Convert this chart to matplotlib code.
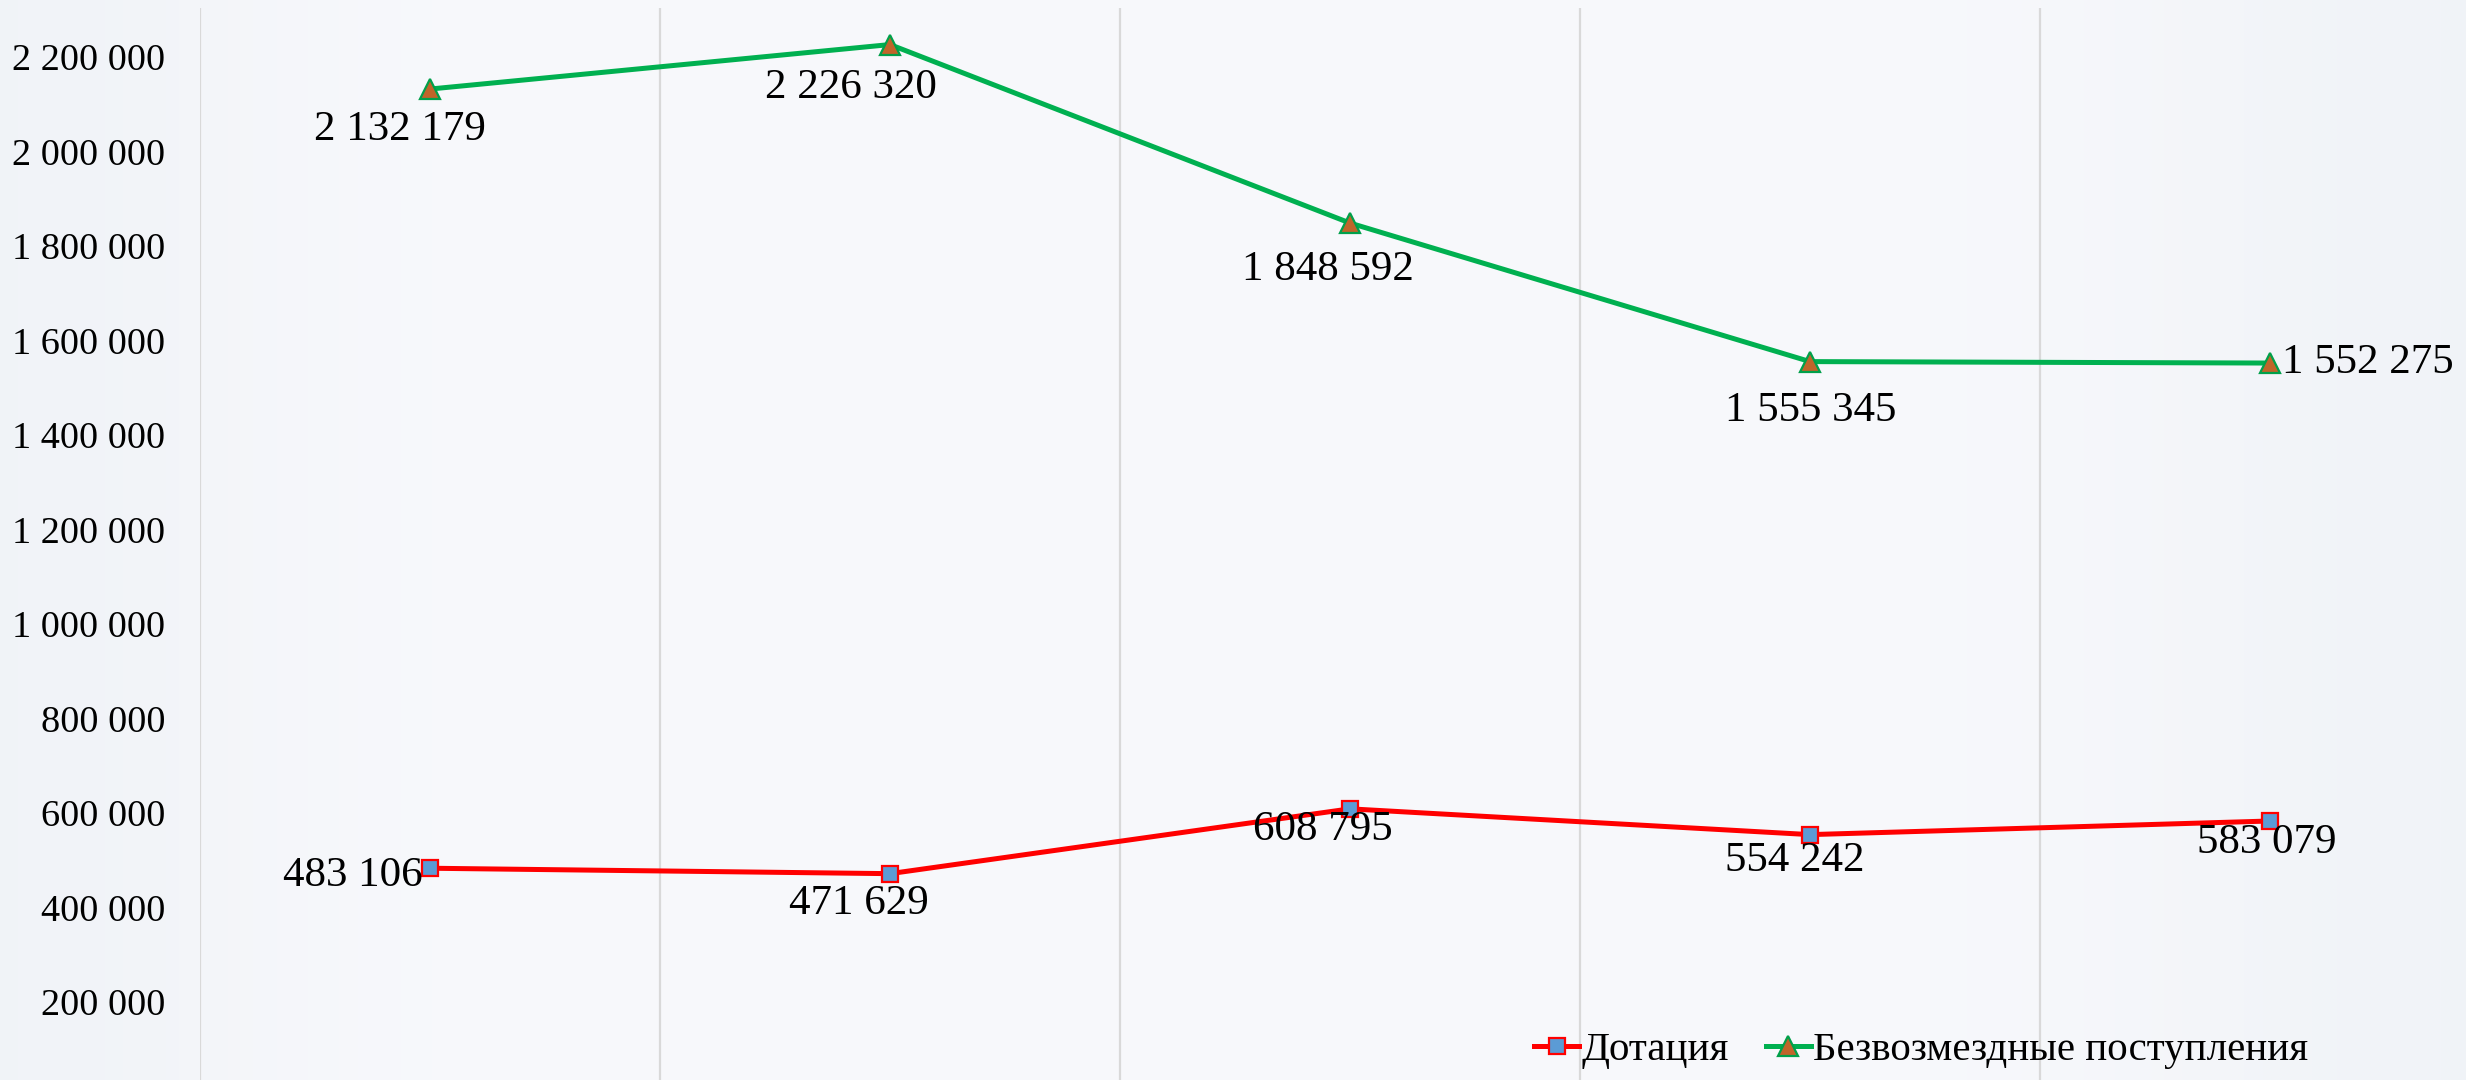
import matplotlib
matplotlib.use('Agg')
import matplotlib.pyplot as plt
import numpy as np

# data (category labels are cropped out of the picture)
dotation = [483106, 471629, 608795, 554242, 583079]
grants = [2132179, 2226320, 1848592, 1555345, 1552275]
series_labels = ['Дотация', 'Безвозмездные поступления']
y_ticks = [200000, 400000, 600000, 800000, 1000000, 1200000,
           1400000, 1600000, 1800000, 2000000, 2200000]

# hand-placed label offsets in pixels (dx, dy, ha)
GRANT_OFFSETS = [(-30, -41, 'center'), (-39, -43, 'center'), (-22, -47, 'center'),
                 (1, -49, 'center'), (12, 0, 'left')]
DOT_OFFSETS = [(-7, -8, 'right'), (-31, -30, 'center'), (-27, -21, 'center'),
               (-15, -26, 'center'), (-3, -22, 'center')]

plt.rcParams['font.family'] = ['Liberation Serif', 'DejaVu Serif']

W, H = 2466, 1080
fig = plt.figure(figsize=(W / 100, H / 100), dpi=100)

# soft slide-like background
bg = fig.add_axes([0, 0, 1, 1], zorder=-10)
xs = np.linspace(0, 1, 400)
grad = 0.5 * (np.exp(-((xs - 0.0) / 0.12) ** 2) + np.exp(-((xs - 1.0) / 0.15) ** 2))
c_mid = np.array([0.972, 0.976, 0.988])
c_edge = np.array([0.918, 0.933, 0.957])
img = c_mid[None, :] * (1 - grad[:, None]) + c_edge[None, :] * grad[:, None]
bg.imshow(img[None, :, :], aspect='auto', extent=[0, 1, 0, 1])
bg.set_axis_off()

# axes box runs past the right and bottom edges (picture is cropped)
left_px, right_px, top_px, zero_px = 200, 2500, 8, 1096.5
ax = fig.add_axes([left_px / W, (H - zero_px) / H,
                   (right_px - left_px) / W, (zero_px - top_px) / H])
ax.patch.set_alpha(0)
x = np.arange(len(grants))
ax.set_xlim(-0.5, len(grants) - 0.5)
ymax = 2200000 + (57 - top_px) / 94.5 * 200000
ax.set_ylim(0, ymax)

for b in np.arange(-0.5, len(grants), 1.0):
    ax.axvline(b, color='#d9d9d9', lw=1.6, zorder=1)
for s in ax.spines.values():
    s.set_visible(False)

ax.set_xticks([])
ax.set_yticks(y_ticks)
ax.set_yticklabels([f'{v:,}'.replace(',', ' ') for v in y_ticks], fontsize=27.5)
ax.tick_params(axis='y', length=0, pad=25)

ax.plot(x, dotation, color='#ff0000', lw=3.6, marker='s', ms=11,
        mfc='#5b9bd5', mec='#ff0000', mew=1.6, label=series_labels[0], zorder=3)
ax.plot(x, grants, color='#00b050', lw=3.6, marker='^', ms=15,
        mfc='#c0652a', mec='#00a04a', mew=1.6, label=series_labels[1], zorder=3)

for xi, v, (dx, dy, ha) in zip(x, grants, GRANT_OFFSETS):
    ax.annotate(f'{v:,}'.replace(',', ' '), (xi, v), xytext=(dx, dy),
                textcoords='offset pixels', ha=ha, va='center', fontsize=31, zorder=4)
for xi, v, (dx, dy, ha) in zip(x, dotation, DOT_OFFSETS):
    ax.annotate(f'{v:,}'.replace(',', ' '), (xi, v), xytext=(dx, dy),
                textcoords='offset pixels', ha=ha, va='center', fontsize=31, zorder=4)

fig.legend(loc='center', bbox_to_anchor=(1921 / W, (H - 1050) / H), ncol=2,
           frameon=False, fontsize=29.5, handlelength=1.1, handletextpad=0.05,
           columnspacing=0.9)

fig.savefig('out.png', dpi=100, facecolor=fig.get_facecolor())
